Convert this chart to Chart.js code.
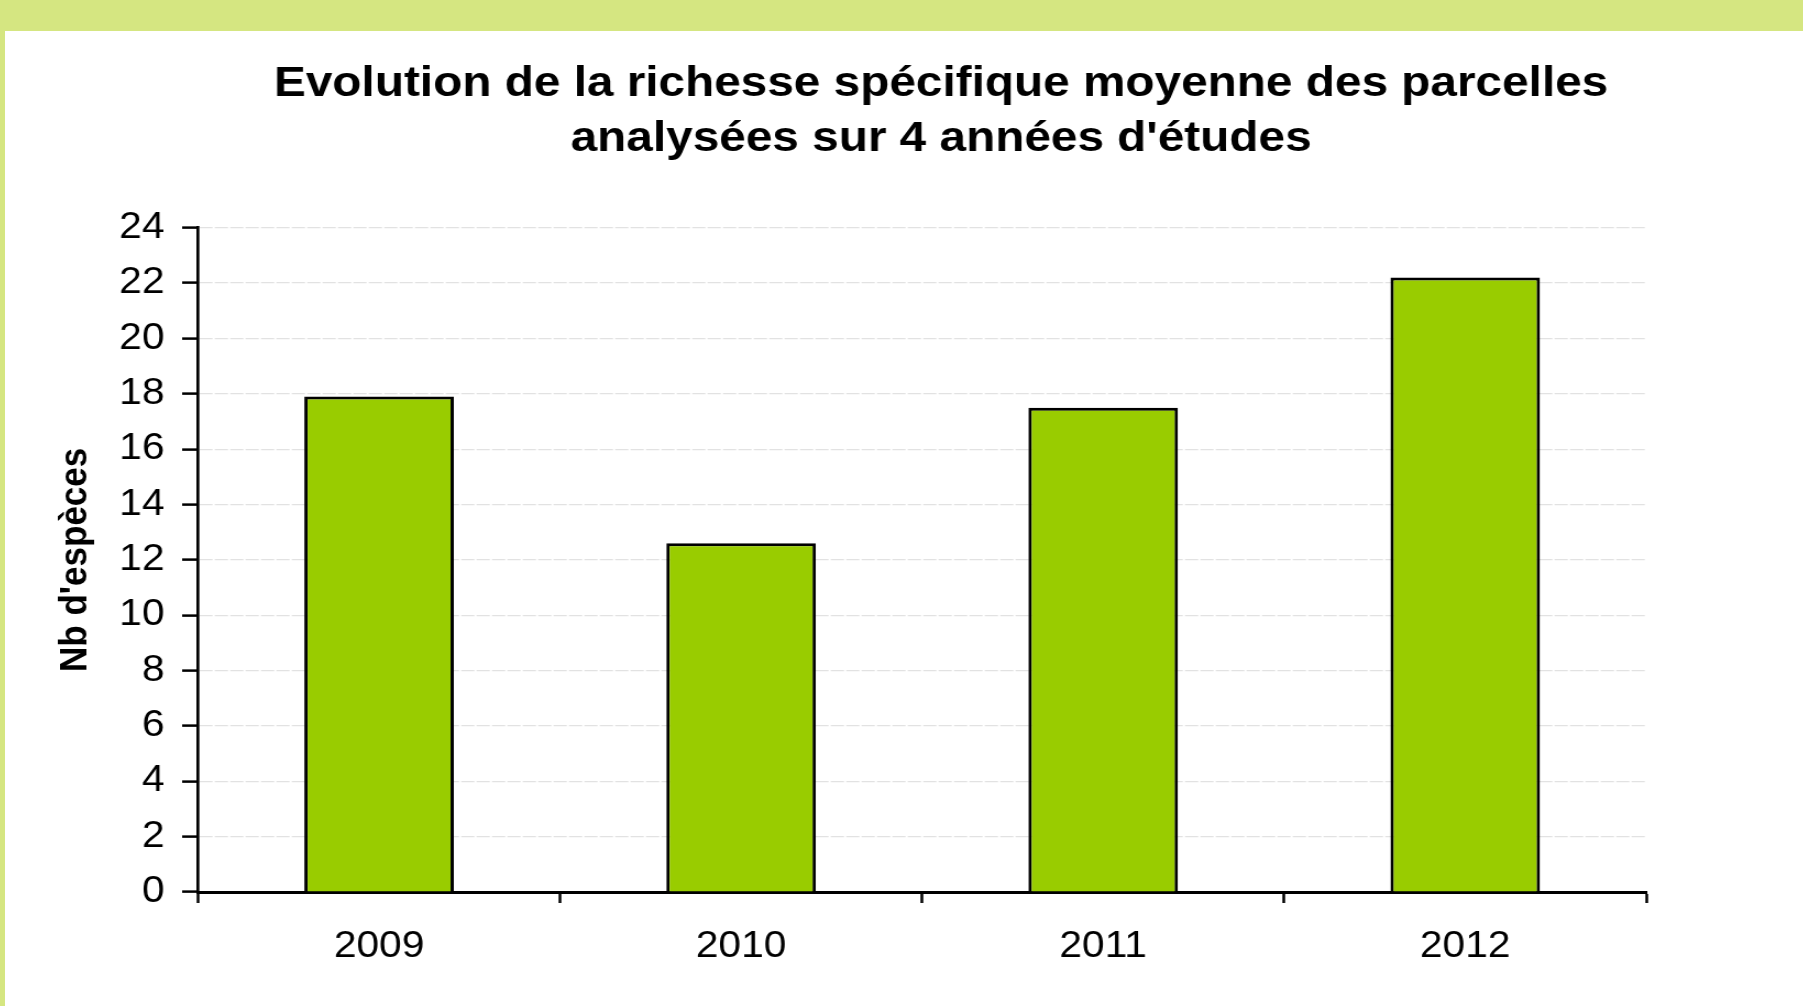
<!DOCTYPE html>
<html>
<head>
<meta charset="utf-8">
<script src="https://cdn.jsdelivr.net/npm/chart.js@4/dist/chart.umd.min.js"></script>
<style>
    html, body { margin: 0; padding: 0; overflow: hidden; }
    body { width: 1803px; height: 1006px; background: #d5e681; position: relative; }
    #panel { position: absolute; left: 5px; top: 31px; width: 1798px; height: 975px; background: #fff; overflow: hidden; }
    /* the original picture is stretched sideways, so the chart is too */
    #wrap { width: 1634.5px; height: 975px; transform: scaleX(1.1); transform-origin: 0 0; }
</style>
</head>
<body>
<div id="panel"><div id="wrap"><canvas id="chart" width="1634" height="975"></canvas></div></div>
<script>
const years = ['2009', '2010', '2011', '2012'];
const nbEspeces = [17.9, 12.6, 17.5, 22.2];
const yMin = 0;
const yMax = 24;
const yStep = 2;
const chartTitle = ["Evolution de la richesse spécifique moyenne des parcelles", "analysées sur 4 années d'études"];
const yTitle = "Nb d'espèces";

// title is not centred on the canvas in the original, move it a bit
const moveTitle = {
    id: 'moveTitle',
    afterLayout(chart) {
        let t = chart.titleBlock;
        let d = 851 - (t.left + t.right) / 2;
        t.left += d;
        t.right += d;
    }
};

let ctx = document.getElementById('chart').getContext('2d');
let chart = new Chart(ctx, {
    type: 'bar',
    data: {
        labels: years,
        datasets: [{
            data: nbEspeces,
            backgroundColor: '#99cc00',
            borderColor: '#000',
            borderWidth: 3,
            barPercentage: 0.413,
            categoryPercentage: 1
        }]
    },
    options: {
        responsive: false,
        animation: false,
        layout: {
            padding: { left: 25.5, right: 142, top: 0, bottom: 0 }
        },
        plugins: {
            legend: { display: false },
            tooltip: { enabled: false },
            title: {
                display: true,
                text: chartTitle,
                color: '#000',
                font: { family: "'Liberation Sans', Arial, sans-serif", size: 43.4, weight: 'bold', lineHeight: 1.27 },
                padding: { top: 25, bottom: 61.5 }
            }
        },
        scales: {
            x: {
                afterFit(scale) { scale.height = 114; },
                grid: {
                    drawOnChartArea: false,
                    drawTicks: true,
                    tickLength: 11,
                    tickColor: '#000',
                    tickWidth: 2.5
                },
                border: { display: true, color: '#000', width: 3 },
                ticks: {
                    color: '#000',
                    padding: 21.6,
                    font: { family: "'Liberation Sans', Arial, sans-serif", size: 37 }
                }
            },
            y: {
                min: yMin,
                max: yMax,
                afterFit(scale) { scale.width = 150; },
                ticks: {
                    stepSize: yStep,
                    color: '#000',
                    padding: 16,
                    font: { family: "'Liberation Sans', Arial, sans-serif", size: 37 }
                },
                grid: {
                    color: '#e2e2e2',
                    lineWidth: 1.2,
                    tickLength: 14.5,
                    tickColor: '#000',
                    tickWidth: 2.5
                },
                border: { display: true, color: '#000', width: 2.7, dash: [12, 2] },
                title: {
                    display: true,
                    text: yTitle,
                    color: '#000',
                    padding: { top: 17.5, bottom: 0 },
                    font: { family: "'Liberation Sans', Arial, sans-serif", size: 35, weight: 'bold' }
                }
            }
        }
    },
    plugins: [moveTitle]
});
</script>
</body>
</html>
